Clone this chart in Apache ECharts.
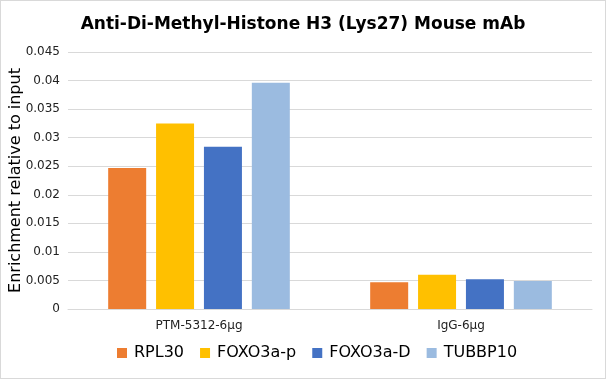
<!DOCTYPE html>
<html><head><meta charset="utf-8">
<script src="https://cdn.jsdelivr.net/npm/echarts@6/dist/echarts.min.js"></script>
<style>html,body{margin:0;padding:0;background:#fff;}#c{width:604px;height:377px;border:1px solid #d9d9d9;}</style>
</head><body><div id="c"></div>
<script>
const categories = ['PTM-5312-6μg', 'IgG-6μg'];
const seriesNames = ['RPL30', 'FOXO3a-p', 'FOXO3a-D', 'TUBBP10'];
const RPL30 = [0.0247, 0.0047];
const FOXO3a_p = [0.0325, 0.0060];
const FOXO3a_D = [0.0284, 0.0052];
const TUBBP10 = [0.0396, 0.0049];
const colors = ['#ED7D31', '#FFC000', '#4472C4', '#9BBBE0'];
const values = [RPL30, FOXO3a_p, FOXO3a_D, TUBBP10];
const font = 'DejaVu Sans';
const chart = echarts.init(document.getElementById('c'));
chart.setOption({
  animation: false,
  title: {text: 'Anti-Di-Methyl-Histone H3 (Lys27) Mouse mAb', left: 'center', top: 10,
    textStyle: {fontFamily: font, fontSize: 17, fontWeight: 'bold', color: '#000'}},
  grid: {left: 67, right: 13, top: 51, bottom: 69, containLabel: false, outerBoundsMode: 'none'},
  legend: {bottom: 12, left: 111, itemWidth: 10, itemHeight: 10, itemGap: 16, icon: 'rect',
    textStyle: {fontFamily: font, fontSize: 16, color: '#000', padding: [0, 0, 0, 2]}},
  xAxis: {type: 'category', data: categories,
    axisLine: {lineStyle: {color: '#d9d9d9'}}, axisTick: {show: false},
    axisLabel: {fontFamily: font, fontSize: 12, color: '#222', margin: 11}},
  yAxis: {type: 'value', min: 0, max: 0.045, interval: 0.005,
    name: 'Enrichment relative to input', nameLocation: 'middle', nameGap: 44, nameMoveOverlap: false,
    nameTextStyle: {fontFamily: font, fontSize: 16, color: '#000'},
    axisLabel: {fontFamily: font, fontSize: 12, color: '#222', margin: 8},
    splitLine: {lineStyle: {color: '#d9d9d9'}}},
  series: values.map((v, i) => ({name: seriesNames[i], type: 'bar', data: v, barWidth: 38, barGap: '26%',
    itemStyle: {color: colors[i]}}))
});
</script></body></html>
